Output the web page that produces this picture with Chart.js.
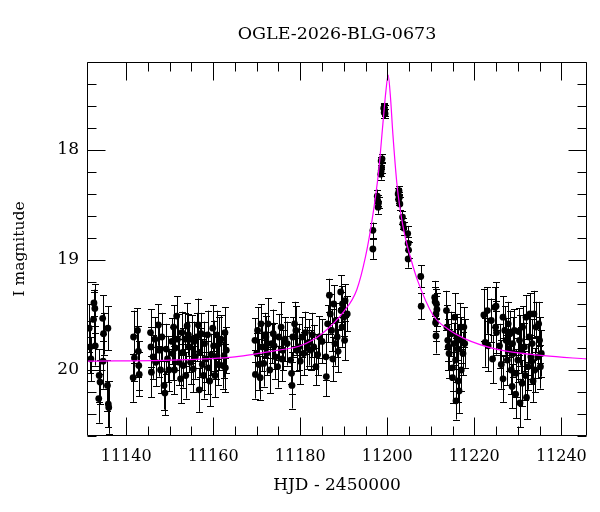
<!DOCTYPE html>
<html>
<head>
<meta charset="utf-8">
<script src="https://cdn.jsdelivr.net/npm/chart.js@4.4.1/dist/chart.umd.min.js"></script>
<style>
  html, body { margin: 0; padding: 0; background: #ffffff; }
  #wrap { width: 600px; height: 512px; }
</style>
</head>
<body>
<div id="wrap"><canvas id="c" width="600" height="512"></canvas></div>
<script>
// ---- Data ----
const titleText = "OGLE-2026-BLG-0673";
const xTitle = "HJD - 2450000";
const yTitle = "I magnitude";

// Observations: HJD-2450000, I magnitude, error
const hjd = [
  11131.5,11131.7,11131.9,11132.6,11132.8,11132.5,11132.9,11133.8,11134.0,11133.7,
  11134.6,11134.8,11134.7,11135.8,11135.7,11135.9,11136.0,
  11141.6,11141.7,11141.9,11142.6,11142.8,11142.9,11143.0,
  11145.6,11145.7,11145.8,11146.6,11146.8,11147.4,11147.6,11147.9,11148.7,11148.9,
  11149.2,11149.8,11150.5,11150.7,11150.9,11151.1,11151.6,11151.8,11152.2,11152.8,
  11153.0,11153.1,11153.5,11153.7,11154.3,11154.5,11154.8,11155.1,11155.4,11155.6,
  11156.6,11156.8,11156.9,11157.2,11157.5,11157.8,11158.0,11158.7,11158.9,11159.5,
  11159.9,11160.1,11160.4,11160.8,11161.1,11161.4,11162.2,11162.5,11162.7,11162.8,
  11169.6,11169.7,11170.0,11170.2,11170.5,11170.8,11171.0,11171.3,11171.6,11172.1,
  11172.3,11172.6,11173.0,11173.4,11173.8,11174.3,11174.8,11175.1,11175.6,11176.0,
  11177.0,11177.8,11178.0,11178.1,11178.3,11178.7,11179.0,11179.2,11179.7,11180.4,
  11180.8,11181.2,11182.0,11182.4,11183.1,11183.6,11184.4,11185.9,11186.0,11186.3,
  11186.7,11186.9,11187.2,11187.7,11188.0,11188.2,11188.5,11188.7,11189.3,11189.4,
  11189.6,11189.7,11190.0,11190.2,11190.3,11190.8,
  11196.7,11196.7,11197.7,11197.8,11197.9,11198.0,11198.5,11198.6,11198.7,11198.8,
  11198.6,11199.2,11199.3,11199.4,11199.5,11199.3,11202.5,11202.7,11202.8,11202.9,
  11202.6,11203.5,11203.6,11203.8,11204.7,11204.8,11204.9,11204.8,
  11207.7,11207.8,11210.9,11211.0,11211.2,11211.3,11211.1,11211.4,11211.2,11213.6,
  11213.7,11213.9,11214.0,11214.2,11214.7,11215.0,11215.0,11215.3,11215.5,11215.7,
  11216.0,11216.2,11216.5,11216.8,11217.0,11217.0,11217.4,11217.6,11217.8,11215.8,
  11216.3,
  11223.0,11223.2,11223.9,11224.7,11225.0,11224.9,11225.1,11226.6,11226.6,11227.0,
  11227.3,11227.6,11228.0,11228.2,11228.5,11228.7,11228.8,11229.0,11229.2,11229.6,
  11230.0,11230.4,11230.8,11231.1,11231.5,11231.9,11232.3,11232.6,11232.8,11233.0,
  11233.3,11233.7,11233.9,11234.2,11234.6,11235.0,11235.2,11229.5,11231.0,11232.0,
  11233.5,11230.5,
  11146.2,11148.2,11149.5,11151.3,11152.5,11154.0,11155.9,11156.2,11158.3,11159.2,
  11160.6,11161.8,11163.0,
  11171.8,11174.0,11175.8,11176.5,11180.0,11181.6,11182.8,11184.0,11185.0,11187.5,
  11222.2,11222.5,11224.2,11225.8,11226.2,11227.8,11230.2,11231.7,11233.2,11234.8,
  11235.4
];
const mag = [
  19.62,19.79,19.90,19.39,19.44,19.54,19.78,20.05,20.11,20.26,
  19.53,19.67,19.92,19.62,20.14,20.31,20.34,
  20.07,19.70,19.89,19.64,19.83,19.96,20.04,
  19.66,19.79,20.02,19.72,19.93,19.59,19.82,20.00,20.14,20.21,
  19.81,20.00,19.74,19.85,19.61,20.00,19.51,19.72,19.93,19.66,
  19.84,19.96,19.72,20.05,19.68,19.79,19.93,19.72,19.99,19.74,
  19.59,20.18,19.84,19.67,19.95,20.05,19.76,19.68,19.98,19.86,
  19.62,19.78,20.05,19.68,19.95,19.76,19.96,19.87,19.66,19.98,
  19.73,20.04,19.85,19.64,19.95,20.07,19.58,19.79,19.94,19.70,
  19.85,19.58,20.00,19.76,19.67,19.88,19.97,19.70,19.61,19.82,
  19.76,19.91,20.03,20.14,19.70,19.58,19.64,19.82,19.79,19.70,
  19.85,19.66,19.75,19.82,19.79,19.97,19.70,19.88,20.06,19.58,
  19.32,19.49,19.64,19.40,19.76,19.55,19.70,19.83,19.29,19.46,
  19.61,19.40,19.52,19.73,19.37,19.49,
  18.90,18.73,18.42,18.46,18.52,18.48,18.22,18.10,18.16,18.08,
  18.19,17.62,17.61,17.64,17.67,17.66,18.40,18.37,18.43,18.49,
  18.45,18.61,18.67,18.71,18.76,18.85,18.91,18.99,
  19.15,19.42,19.34,19.38,19.49,19.40,19.57,19.45,19.69,19.46,
  19.61,19.73,19.79,19.85,19.67,19.98,20.07,19.76,19.52,19.91,
  19.70,19.81,20.19,19.61,20.00,19.73,19.85,19.61,19.76,20.28,
  20.10,
  19.46,19.78,19.55,19.43,19.42,19.61,19.66,19.52,20.08,19.64,
  19.73,19.91,19.82,19.67,20.00,20.15,19.76,19.85,19.64,20.03,
  19.91,19.73,19.82,19.61,19.79,19.52,19.97,19.70,19.49,19.88,
  19.76,19.49,20.00,19.61,19.88,19.73,19.97,20.22,20.12,20.25,
  20.10,20.30,
  19.88,19.70,19.90,19.80,20.08,19.60,19.88,19.70,19.90,20.10,
  19.88,19.72,19.82,
  19.68,19.78,19.90,19.72,19.92,19.80,19.68,19.86,19.74,19.90,
  19.50,19.75,19.90,19.78,19.95,19.58,19.65,20.05,19.92,19.58,
  19.85
];
const err = [
  0.22,0.24,0.20,0.12,0.22,0.25,0.18,0.24,0.20,0.22,
  0.21,0.19,0.25,0.20,0.23,0.21,0.24,
  0.22,0.24,0.21,0.20,0.23,0.22,0.20,
  0.21,0.18,0.23,0.20,0.22,0.19,0.24,0.21,0.22,0.20,
  0.23,0.19,0.21,0.24,0.20,0.22,0.18,0.23,0.21,0.19,
  0.22,0.20,0.24,0.21,0.19,0.23,0.20,0.22,0.21,0.18,
  0.24,0.20,0.22,0.19,0.23,0.21,0.20,0.22,0.24,0.19,
  0.21,0.23,0.20,0.22,0.19,0.24,0.21,0.20,0.23,0.22,
  0.20,0.22,0.19,0.21,0.23,0.20,0.18,0.22,0.21,0.19,
  0.20,0.23,0.21,0.18,0.22,0.20,0.19,0.21,0.23,0.18,
  0.20,0.22,0.19,0.21,0.18,0.20,0.22,0.19,0.21,0.18,
  0.20,0.19,0.21,0.18,0.20,0.17,0.19,0.21,0.18,0.17,
  0.15,0.18,0.19,0.17,0.20,0.16,0.18,0.19,0.15,0.17,
  0.18,0.16,0.17,0.18,0.15,0.16,
  0.09,0.07,0.06,0.05,0.06,0.05,0.05,0.04,0.05,0.04,
  0.05,0.04,0.04,0.05,0.04,0.05,0.05,0.04,0.05,0.06,
  0.05,0.06,0.05,0.06,0.07,0.06,0.07,0.08,
  0.10,0.12,0.15,0.13,0.16,0.14,0.17,0.15,0.16,0.18,
  0.20,0.19,0.21,0.22,0.20,0.21,0.23,0.19,0.22,0.20,
  0.21,0.18,0.20,0.22,0.19,0.21,0.20,0.18,0.22,0.17,
  0.19,
  0.21,0.23,0.20,0.18,0.22,0.24,0.20,0.19,0.21,0.22,
  0.20,0.23,0.19,0.21,0.22,0.20,0.24,0.21,0.19,0.22,
  0.20,0.23,0.21,0.19,0.22,0.20,0.21,0.23,0.19,0.20,
  0.22,0.21,0.20,0.23,0.19,0.21,0.20,0.22,0.21,0.20,
  0.19,0.22,
  0.20,0.22,0.21,0.20,0.22,0.21,0.20,0.22,0.21,0.23,
  0.20,0.22,0.21,
  0.20,0.21,0.20,0.20,0.21,0.19,0.20,0.19,0.20,0.20,
  0.24,0.22,0.22,0.20,0.22,0.20,0.21,0.22,0.21,0.20,
  0.21
];

// Model light curve
const modelT = [11131,11150,11165,11175,11180,11185,11190,11193,11195,11196.5,
                11198,11199,11199.7,11200.2,11200.7,11201.3,11202.2,11203,11204,11205.5,
                11207,11210.5,11214,11217.5,11225,11236,11246];
const modelMag = [19.92,19.91,19.88,19.82,19.78,19.67,19.47,19.27,18.97,18.64,
                  18.20,17.76,17.46,17.32,17.50,17.86,18.30,18.55,18.77,19.00,
                  19.19,19.50,19.63,19.71,19.81,19.87,19.90];

// Axis ranges and tick settings
const xRange = [11131, 11245.9];
const yRange = [17.2, 20.6];
const xMinorStep = 5, xMajorStep = 20;
const yMinorStep = 0.2;

const FONT = "'DejaVu Serif', 'Liberation Serif', serif";

const points = hjd.map((t, i) => ({ x: t, y: mag[i], e: err[i] }));
const model = modelT.map((t, i) => ({ x: t, y: modelMag[i] }));

function isInt(v) { return Math.abs(v - Math.round(v)) < 1e-6; }
function isMult(v, s) { return Math.abs(v / s - Math.round(v / s)) < 1e-6; }

const errorBars = {
  id: 'errorBars',
  beforeDatasetsDraw(chart) {
    const ctx = chart.ctx, xs = chart.scales.x, ys = chart.scales.y, a = chart.chartArea;
    ctx.save();
    ctx.beginPath();
    ctx.rect(a.left, a.top, a.right - a.left, a.bottom - a.top);
    ctx.clip();
    ctx.strokeStyle = '#000';
    ctx.lineWidth = 1;
    ctx.beginPath();
    points.forEach(p => {
      const px = Math.round(xs.getPixelForValue(p.x)) + 0.5;
      const y1 = ys.getPixelForValue(p.y - p.e);
      const y2 = ys.getPixelForValue(p.y + p.e);
      ctx.moveTo(px, y1); ctx.lineTo(px, y2);
      ctx.moveTo(px - 3.5, Math.round(y1) + 0.5); ctx.lineTo(px + 3.5, Math.round(y1) + 0.5);
      ctx.moveTo(px - 3.5, Math.round(y2) + 0.5); ctx.lineTo(px + 3.5, Math.round(y2) + 0.5);
    });
    ctx.stroke();
    ctx.restore();
  }
};

const frameTicks = {
  id: 'frameTicks',
  afterDraw(chart) {
    const ctx = chart.ctx, xs = chart.scales.x, ys = chart.scales.y, a = chart.chartArea;
    ctx.save();
    ctx.strokeStyle = '#000';
    ctx.lineWidth = 1;
    ctx.beginPath();
    const L = Math.round(a.left) + 0.5, R = Math.round(a.right) - 0.5;
    const T = Math.round(a.top) + 0.5, B = Math.round(a.bottom) - 0.5;
    ctx.rect(L, T, R - L, B - T);
    xs.ticks.forEach(t => {
      if (!isMult(t.value, xMinorStep)) return;
      const len = isMult(t.value, xMajorStep) ? 18 : 9;
      const px = Math.round(xs.getPixelForValue(t.value)) + 0.5;
      ctx.moveTo(px, B); ctx.lineTo(px, B - len);
      ctx.moveTo(px, T); ctx.lineTo(px, T + len);
    });
    ys.ticks.forEach(t => {
      if (!isMult(t.value, yMinorStep)) return;
      const len = isInt(t.value) ? 18 : 9;
      const py = Math.round(ys.getPixelForValue(t.value)) + 0.5;
      ctx.moveTo(L, py); ctx.lineTo(L + len, py);
      ctx.moveTo(R, py); ctx.lineTo(R - len, py);
    });
    ctx.stroke();
    // Title centred over the plotting area
    ctx.fillStyle = '#000';
    ctx.font = "17.5px " + FONT;
    ctx.textAlign = 'center';
    ctx.textBaseline = 'middle';
    ctx.fillText(titleText, (a.left + a.right) / 2, 34);
    ctx.restore();
  }
};

new Chart(document.getElementById('c'), {
  type: 'scatter',
  data: {
    datasets: [
      {
        label: 'model',
        data: model,
        showLine: true,
        borderColor: '#ff00ff',
        borderWidth: 1.2,
        pointRadius: 0,
        cubicInterpolationMode: 'monotone',
        fill: false
      },
      {
        label: 'OGLE',
        data: points,
        pointRadius: 3.4,
        pointBackgroundColor: '#000',
        pointBorderColor: '#000',
        pointBorderWidth: 0
      }
    ]
  },
  options: {
    responsive: false,
    animation: false,
    devicePixelRatio: 1,
    layout: { padding: { left: 0, right: 13, top: 62, bottom: 10 } },
    plugins: {
      legend: { display: false },
      tooltip: { enabled: false },
      title: { display: false }
    },
    scales: {
      x: {
        type: 'linear',
        min: xRange[0], max: xRange[1],
        grid: { display: false, drawTicks: false },
        border: { display: false },
        ticks: {
          stepSize: xMinorStep,
          maxTicksLimit: 1000,
          autoSkip: false,
          maxRotation: 0,
          padding: 11,
          color: '#000',
          font: { family: FONT, size: 16 },
          callback: v => isMult(v, xMajorStep) ? String(Math.round(v)) : ''
        },
        title: {
          display: true, text: xTitle, color: '#000',
          font: { family: FONT, size: 17 },
          padding: { top: 4, bottom: 6 }
        },
        afterFit: s => { s.height = 66; }
      },
      y: {
        type: 'linear',
        reverse: true,
        min: yRange[0], max: yRange[1],
        grid: { display: false, drawTicks: false },
        border: { display: false },
        ticks: {
          stepSize: yMinorStep,
          maxTicksLimit: 1000,
          autoSkip: false,
          padding: 8,
          color: '#000',
          font: { family: FONT, size: 17 },
          callback: v => isInt(v) ? String(Math.round(v)) : ''
        },
        title: {
          display: true, text: yTitle, color: '#000',
          font: { family: FONT, size: 15.5 },
          padding: { top: 11, bottom: 0 }
        },
        afterFit: s => { s.width = 87; }
      }
    }
  },
  plugins: [errorBars, frameTicks]
});
</script>
</body>
</html>
